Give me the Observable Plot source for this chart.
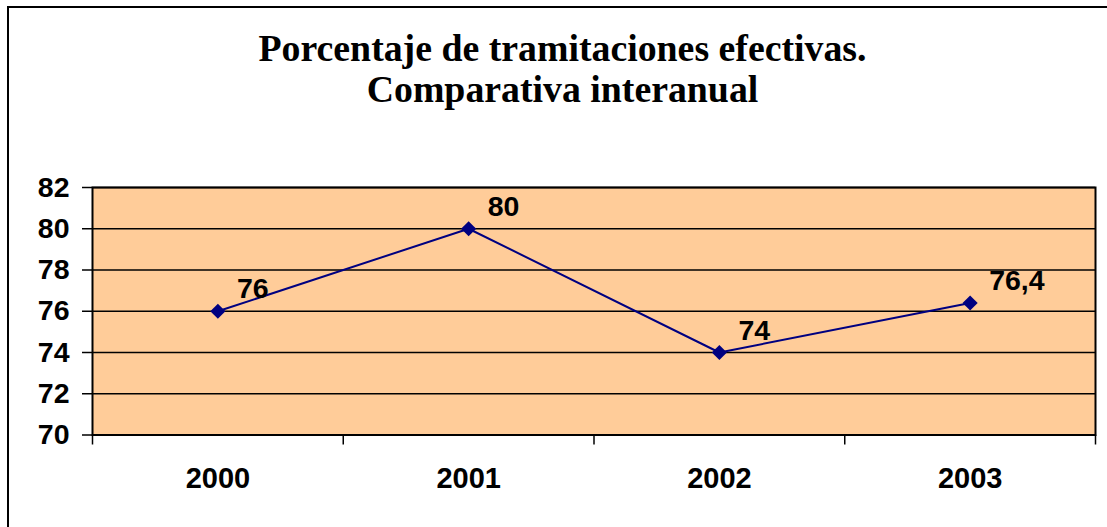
<!DOCTYPE html>
<html>
<head>
<meta charset="utf-8">
<script src="https://cdn.jsdelivr.net/npm/d3@7"></script>
<script src="https://cdn.jsdelivr.net/npm/@observablehq/plot@0.6"></script>
<style>
  html, body { margin: 0; padding: 0; background: #fff; overflow: hidden; width: 1107px; height: 527px; }
  #frame { position: absolute; left: 7px; top: 6px; width: 1200px; height: 600px; border: 2px solid #000; }
  #title { position: absolute; left: 0; top: 28px; width: 1125px; text-align: center;
    font-family: "Liberation Serif", "Times New Roman", serif; font-weight: bold; font-size: 37.8px; line-height: 41px; color: #000; }
  #chart { position: absolute; left: 0; top: 130px; }
</style>
</head>
<body>
<div id="frame"></div>
<div id="title">Porcentaje de tramitaciones efectivas.<br>Comparativa interanual</div>
<div id="chart"></div>
<script>
const years = [2000, 2001, 2002, 2003];
const values = [76, 80, 74, 76.4];
const yTicks = [70, 72, 74, 76, 78, 80, 82];
const xBoundaries = [1999.5, 2000.5, 2001.5, 2002.5, 2003.5];

const data = years.map((year, i) => ({year, value: values[i]}));
const font = {fontFamily: "'Liberation Sans', Arial, sans-serif", fontWeight: "bold"};

const chart = Plot.plot({
  width: 1107,
  height: 397,
  marginLeft: 92,
  marginRight: 12,
  marginTop: 57,
  marginBottom: 92.5,
  style: {fontFamily: font.fontFamily, fontWeight: "bold", color: "#000", background: "transparent"},
  x: {type: "linear", domain: [1999.5, 2003.5]},
  y: {domain: [70, 82]},
  marks: [
    Plot.frame({fill: "#FFCC99", stroke: null}),
    Plot.ruleY(yTicks, {stroke: "#000", strokeWidth: 1.6}),
    Plot.frame({stroke: "#000", strokeWidth: 2}),
    Plot.axisY({ticks: yTicks, tickSize: 10, tickPadding: 13, fontSize: 28.5, ...font, label: null, strokeWidth: 1.5}),
    Plot.axisX({ticks: xBoundaries, tickSize: 10, tickFormat: () => "", label: null, strokeWidth: 1.5}),
    Plot.axisX({ticks: years, tickSize: 0, tickPadding: 32, tickFormat: d => String(d), fontSize: 29, ...font, label: null}),
    Plot.line(data, {x: "year", y: "value", stroke: "#000080", strokeWidth: 2}),
    Plot.dot(data, {x: "year", y: "value", symbol: "diamond2", r: 6.8, fill: "#000080", stroke: null}),
    Plot.text(data, {x: "year", y: "value", text: d => String(d.value).replace(".", ","),
      dx: 19, dy: -13, textAnchor: "start", lineAnchor: "bottom", fontSize: 28.5, ...font, fill: "#000"})
  ]
});
document.getElementById("chart").appendChild(chart);
</script>
</body>
</html>
